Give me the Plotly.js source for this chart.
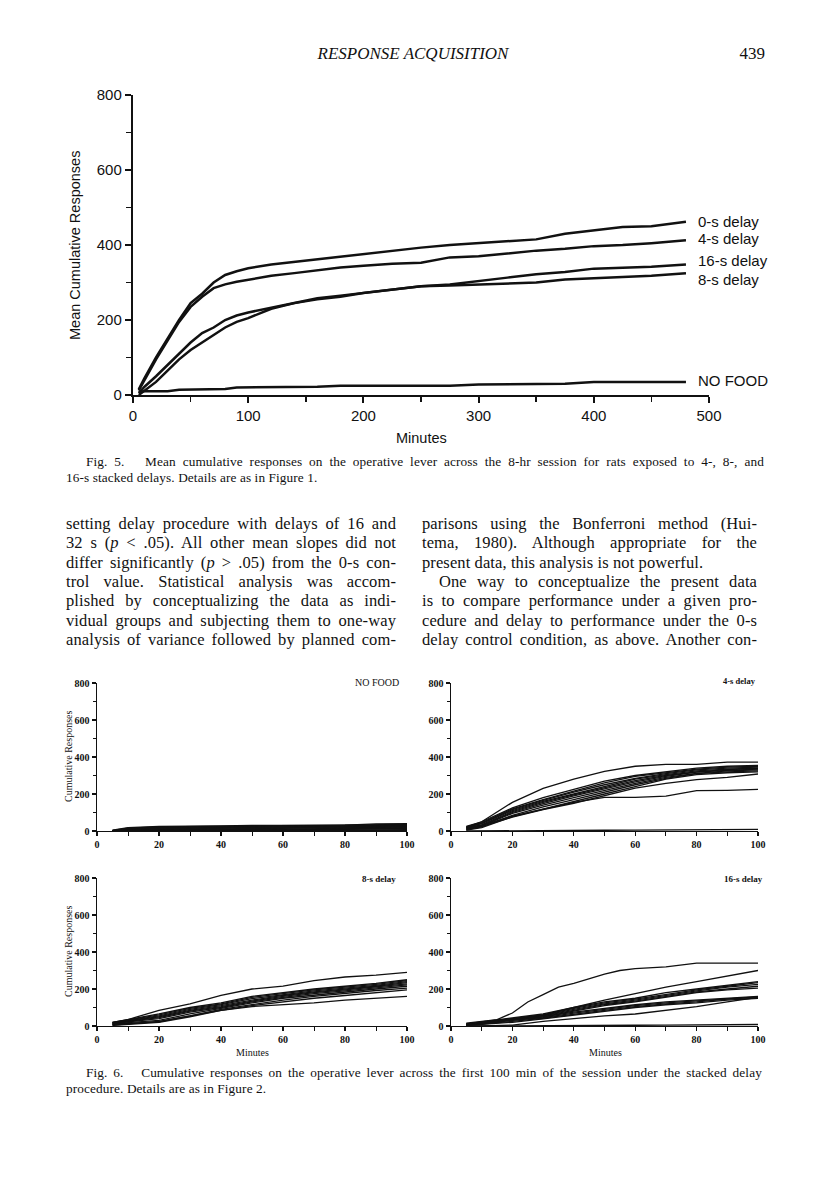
<!DOCTYPE html>
<html>
<head>
<meta charset="utf-8">
<script src="https://cdn.plot.ly/plotly-3.0.1.min.js"></script>
<style>
  html, body { margin:0; padding:0; background:#fff; }
  #page { position:relative; width:816px; height:1193px; overflow:hidden; background:#fff; }
  #chart { position:absolute; left:0; top:0; width:816px; height:1193px; }
  .t { position:absolute; white-space:nowrap; color:#111; font-family:'Liberation Serif','Times New Roman',serif; }
</style>
</head>
<body>
<div id="page">
  <div id="chart"></div>
</div>
<script>
// ---------- Fig. 5 data (mean cumulative responses, 8-hr session) ----------
var topMinutes = [5,10,20,30,40,50,60,70,80,90,100,120,140,160,180,200,225,250,275,300,325,350,375,400,425,450,480];
var delay0  = [15,45,100,150,200,245,270,300,320,330,338,348,355,362,370,376,385,393,400,405,410,415,430,440,448,450,462];
var delay4  = [12,40,95,145,195,235,262,285,295,302,308,318,325,332,340,345,350,353,367,370,378,385,390,397,400,405,413];
var delay16 = [5,22,50,80,110,140,165,180,200,212,220,233,245,258,265,272,282,290,295,305,313,322,328,337,340,342,348];
var delay8  = [0,12,35,65,95,120,140,160,180,195,205,230,245,255,262,272,280,290,292,295,298,300,308,312,316,318,325];
var noFood  = [8,10,10,10,14,15,15,15,16,20,20,20,20,22,25,25,25,25,25,28,28,28,30,35,35,35,35];
var topNames = ['0-s delay','4-s delay','16-s delay','8-s delay','NO FOOD'];
var topLabelY = [467,419,360,311,40];

// ---------- Fig. 6 data (individual rats, first 100 min) ----------
var ratMinutes = [5,10,20,30,40,50,60,70,80,90,100];
var ratsNoFood = [
  [5,18,25,25,28,30,30,30,32,38,40],
  [3,15,22,24,26,28,28,29,30,35,36],
  [2,12,20,22,25,26,27,28,28,32,33],
  [0,10,18,20,22,24,25,26,27,30,30],
  [0,8,15,18,20,22,23,24,25,28,28],
  [0,5,12,15,18,20,21,22,23,25,26],
  [0,3,10,12,15,17,18,20,21,23,24],
  [0,2,6,9,12,14,15,16,18,20,21],
  [0,1,4,6,9,11,12,13,15,17,18],
  [0,0,2,4,6,8,9,10,12,14,15],
  [0,0,1,2,4,5,6,7,8,10,11],
  [0,0,0,1,2,3,3,4,5,6,7],
  [0,0,0,0,0,1,1,1,2,2,3]
];
var rats4s = [
  [20,50,155,230,280,322,350,360,360,372,372],
  [15,30,80,118,155,182,182,188,218,220,225],
  [10,25,75,115,150,190,232,258,278,290,308],
  [25,50,125,180,225,270,300,320,340,350,355],
  [22,45,120,170,215,260,295,315,335,345,350],
  [20,42,115,165,210,250,285,310,330,340,345],
  [18,40,110,160,200,240,280,305,325,335,340],
  [15,35,105,155,195,235,272,300,320,332,338],
  [12,30,100,148,190,228,265,295,318,328,335],
  [10,28,95,140,180,220,258,290,312,325,330],
  [8,22,85,130,170,210,250,285,310,320,325],
  [5,18,78,120,160,200,240,280,305,315,320],
  [0,0,1,2,3,4,5,6,7,8,9]
];
var rats8s = [
  [20,35,85,120,165,200,215,245,265,275,290],
  [10,15,22,55,85,105,115,125,140,150,160],
  [20,35,65,100,125,160,180,200,215,230,250],
  [18,32,60,95,120,155,175,195,210,225,245],
  [16,30,55,90,115,148,170,190,205,220,240],
  [15,28,50,85,110,140,165,185,200,215,235],
  [12,25,45,80,105,135,160,180,195,210,228],
  [10,22,40,75,100,130,155,175,190,205,222],
  [8,18,30,65,95,125,150,168,185,200,215],
  [5,12,25,55,90,115,140,160,178,192,205],
  [3,8,20,50,85,110,130,150,165,180,195]
];
var rat16sTopMinutes = [5,10,15,20,25,30,35,40,50,55,60,70,80,90,100];
var rat16sTop = [15,25,35,70,130,170,210,230,280,300,310,320,340,340,340];
var rats16s = [
  [10,20,40,60,100,140,175,210,240,270,300],
  [12,22,45,65,100,130,150,180,200,220,240],
  [10,20,40,60,95,125,145,170,195,215,235],
  [8,18,38,58,90,120,140,165,190,210,225],
  [6,16,35,55,85,115,135,160,185,200,215],
  [5,14,32,50,80,110,130,155,180,195,205],
  [8,15,35,50,75,95,115,130,140,150,160],
  [6,12,30,45,70,90,110,125,135,148,157],
  [4,10,25,42,65,85,105,120,130,145,155],
  [3,8,20,38,60,80,100,115,125,140,150],
  [0,0,5,25,40,55,65,85,105,130,155],
  [0,0,0,1,2,3,4,5,6,7,8]
];
var panelTitles = ['NO FOOD','4-s delay','8-s delay','16-s delay'];

// ---------- page geometry helpers ----------
var W = 816, H = 1193;
function px(x){ return x / W; }
function py(y){ return 1 - y / H; }

var traces = [];
var topSeries = [delay0, delay4, delay16, delay8, noFood];
topSeries.forEach(function(s){
  traces.push({x: topMinutes, y: s, type:'scatter', mode:'lines', xaxis:'x', yaxis:'y',
    line:{color:'#111', width:2.5}, hoverinfo:'skip'});
});
function addRats(list, xa, ya, xs){
  list.forEach(function(s){
    traces.push({x: xs || ratMinutes, y: s, type:'scatter', mode:'lines', xaxis:xa, yaxis:ya,
      line:{color:'#111', width:1.3}, hoverinfo:'skip'});
  });
}
addRats(ratsNoFood, 'x2', 'y2');
addRats(rats4s, 'x3', 'y3');
addRats(rats8s, 'x4', 'y4');
addRats([rat16sTop], 'x5', 'y5', rat16sTopMinutes);
addRats(rats16s, 'x5', 'y5');

var sansFont = {family:'Liberation Sans, Arial, sans-serif', size:15, color:'#111'};
var serifTick = {family:'Liberation Serif, Times New Roman, serif', size:10, color:'#111', weight:'bold'};

function bigX(){
  return {domain:[px(133), px(709)], range:[0,500], anchor:'y', showline:true, linewidth:2.2, linecolor:'#111',
    ticks:'outside', ticklen:6, tickwidth:2, tickcolor:'#111', dtick:100, tick0:0,
    minor:{dtick:50, ticks:'outside', ticklen:5, tickwidth:1.5, tickcolor:'#111'},
    showgrid:false, zeroline:false, tickfont:sansFont, fixedrange:true};
}
function bigY(){
  return {domain:[py(395), py(95)], range:[0,800], anchor:'x', showline:true, linewidth:2.2, linecolor:'#111',
    ticks:'outside', ticklen:6, tickwidth:2, tickcolor:'#111', dtick:200, tick0:0,
    minor:{dtick:100, ticks:'outside', ticklen:5, tickwidth:1.5, tickcolor:'#111'},
    showgrid:false, zeroline:false, tickfont:sansFont, fixedrange:true};
}
function smallX(x0, x1, ya){
  return {domain:[px(x0), px(x1)], range:[0,100], anchor:ya, showline:true, linewidth:1.4, linecolor:'#111',
    ticks:'outside', ticklen:4, tickwidth:1.2, tickcolor:'#111', dtick:20, tick0:0,
    minor:{dtick:10, ticks:'outside', ticklen:4, tickwidth:1, tickcolor:'#111'},
    showgrid:false, zeroline:false, tickfont:serifTick, fixedrange:true};
}
function smallY(y0, y1, xa){
  return {domain:[py(y0), py(y1)], range:[0,800], anchor:xa, showline:true, linewidth:1.4, linecolor:'#111',
    ticks:'outside', ticklen:4, tickwidth:1.2, tickcolor:'#111', dtick:200, tick0:0,
    minor:{dtick:100, ticks:'outside', ticklen:3, tickwidth:1, tickcolor:'#111'},
    showgrid:false, zeroline:false, tickfont:serifTick, fixedrange:true};
}

var ann = [];
topNames.forEach(function(n, i){
  ann.push({text:n, xref:'paper', yref:'paper', x:px(696), y:py(395 - topLabelY[i]*0.3725),
    xanchor:'left', yanchor:'middle', showarrow:false, font:sansFont});
});
ann.push({text:'Mean Cumulative Responses', xref:'paper', yref:'paper', x:px(75), y:py(246), textangle:-90,
  xanchor:'center', yanchor:'middle', showarrow:false, font:{family:'Liberation Sans, Arial, sans-serif', size:14.5, color:'#111'}});
ann.push({text:'Minutes', xref:'paper', yref:'paper', x:px(421), y:py(438),
  xanchor:'center', yanchor:'middle', showarrow:false, font:{family:'Liberation Sans, Arial, sans-serif', size:14.5, color:'#111'}});

var serifLab = {family:'Liberation Serif, Times New Roman, serif', size:10, color:'#111'};
[757, 952].forEach(function(yc){
  ann.push({text:'Cumulative Responses', xref:'paper', yref:'paper', x:px(68), y:py(yc), textangle:-90,
    xanchor:'center', yanchor:'middle', showarrow:false, font:serifLab});
});
[252, 605].forEach(function(xc){
  ann.push({text:'Minutes', xref:'paper', yref:'paper', x:px(xc), y:py(1052),
    xanchor:'center', yanchor:'middle', showarrow:false, font:serifLab});
});
var titlePos = [[401,682,10,'normal'],[758,681,8.5,'bold'],[398,879,9,'bold'],[765,879,9,'bold']];
panelTitles.forEach(function(t, i){
  var p = titlePos[i];
  ann.push({text:t, xref:'paper', yref:'paper', x:px(p[0]), y:py(p[1]),
    xanchor:'right', yanchor:'middle', showarrow:false,
    font:{family:'Liberation Serif, Times New Roman, serif', size:p[2], color:'#111', weight:p[3]}});
});

var layout = {
  width:W, height:H, margin:{l:0,r:0,t:0,b:0}, paper_bgcolor:'#fff', plot_bgcolor:'rgba(0,0,0,0)',
  showlegend:false,
  xaxis: bigX(), yaxis: bigY(),
  xaxis2: smallX(97, 407, 'y2'), yaxis2: smallY(831, 683, 'x2'),
  xaxis3: smallX(451, 758, 'y3'), yaxis3: smallY(831, 683, 'x3'),
  xaxis4: smallX(97, 407, 'y4'), yaxis4: smallY(1026, 878, 'x4'),
  xaxis5: smallX(451, 758, 'y5'), yaxis5: smallY(1026, 878, 'x5'),
  annotations: ann
};
Plotly.newPlot('chart', traces, layout, {displayModeBar:false, staticPlot:true});

// ---------- page text ----------
var page = document.getElementById('page');
function addLine(html, left, width, yc, size, opts){
  opts = opts || {};
  var d = document.createElement('div');
  d.className = 't';
  d.style.left = left + 'px';
  d.style.fontSize = size + 'px';
  d.style.lineHeight = (size*1.2) + 'px';
  d.style.top = (yc - size*0.6) + 'px';
  if (opts.italic) d.style.fontStyle = 'italic';
  if (opts.ls) d.style.letterSpacing = opts.ls + 'px';
  d.innerHTML = html;
  page.appendChild(d);
  if (opts.justify) {
    var nat = d.getBoundingClientRect().width;
    var spaces = (d.textContent.match(/ /g) || []).length;
    if (spaces > 0) d.style.wordSpacing = ((width - nat) / spaces) + 'px';
  }
  if (opts.right) {
    var w = d.getBoundingClientRect().width;
    d.style.left = (left - w) + 'px';
  }
  if (opts.center) {
    var w2 = d.getBoundingClientRect().width;
    d.style.left = (left - w2/2) + 'px';
  }
  return d;
}
addLine('RESPONSE ACQUISITION', 413, 0, 54, 17, {italic:true, center:true});
addLine('439', 765, 0, 54, 17, {right:true});

addLine('Fig. 5.&nbsp;&nbsp; Mean cumulative responses on the operative lever across the 8-hr session for rats exposed to 4-, 8-, and', 86, 671, 462, 13.3, {justify:true, ls:0.1});
addLine('16-s stacked delays. Details are as in Figure 1.', 66, 0, 478, 13.3, {ls:0.1});

var leftCol = [
  'setting delay procedure with delays of 16 and',
  '32 s (<i>p</i> &lt; .05). All other mean slopes did not',
  'differ significantly (<i>p</i> &gt; .05) from the 0-s con-',
  'trol value. Statistical analysis was accom-',
  'plished by conceptualizing the data as indi-',
  'vidual groups and subjecting them to one-way',
  'analysis of variance followed by planned com-'
];
var rightCol = [
  'parisons using the Bonferroni method (Hui-',
  'tema, 1980). Although appropriate for the',
  'present data, this analysis is not powerful.',
  'One way to conceptualize the present data',
  'is to compare performance under a given pro-',
  'cedure and delay to performance under the 0-s',
  'delay control condition, as above. Another con-'
];
var bodyTop = 524, bodyStep = 19.3, bodySize = 16.5;
leftCol.forEach(function(s, i){
  addLine(s, 66, 330, bodyTop + i*bodyStep, bodySize, {justify:true, ls:0.1});
});
rightCol.forEach(function(s, i){
  if (i === 2) addLine(s, 422, 0, bodyTop + i*bodyStep, bodySize, {ls:0.1});
  else if (i === 3) addLine(s, 439, 318, bodyTop + i*bodyStep, bodySize, {justify:true, ls:0.1});
  else addLine(s, 422, 335, bodyTop + i*bodyStep, bodySize, {justify:true, ls:0.1});
});

addLine('Fig. 6.&nbsp;&nbsp; Cumulative responses on the operative lever across the first 100 min of the session under the stacked delay', 86, 671, 1073, 13.3, {justify:true, ls:0.1});
addLine('procedure. Details are as in Figure 2.', 66, 0, 1089, 13.3, {ls:0.1});
</script>
</body>
</html>
